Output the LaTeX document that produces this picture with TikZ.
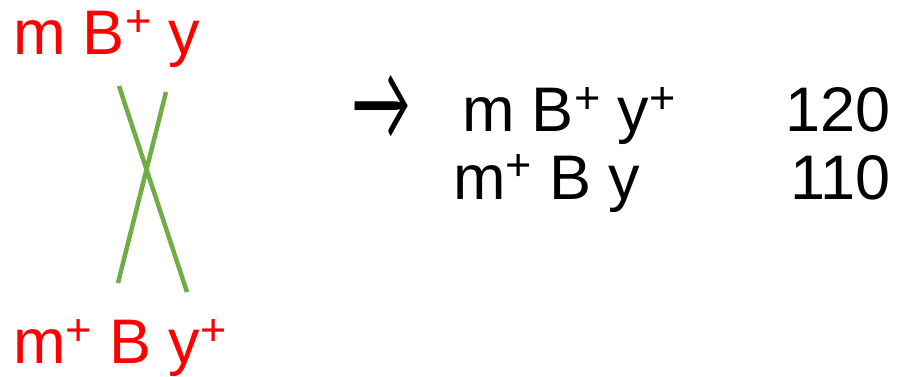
\documentclass[tikz,border=0pt]{standalone}
\usepackage{fontspec}
\setmainfont{Liberation Sans}
\newfontfamily\arrowfont{Lato}
\definecolor{linegreen}{HTML}{70AD47}
\definecolor{labelred}{HTML}{FF0000}
\newcommand{\plussup}{\raisebox{18pt}{\fontsize{45}{45}\selectfont +}}
\tikzset{
  lbl/.style={inner sep=0pt, outer sep=0pt, anchor=base west, font=\fontsize{63}{63}\selectfont},
  num/.style={inner sep=0pt, outer sep=0pt, anchor=base east, font=\fontsize{63}{63}\selectfont},
  redlbl/.style={lbl, text=labelred},
  cross/.style={draw=linegreen, line width=4.5pt}
}
\begin{document}
\begin{tikzpicture}[x=1pt, y=-1pt]
\useasboundingbox (0,0) rectangle (897,377);
\node[redlbl] (top) at (13,55) {m B\plussup{} y};
\node[redlbl] (bot) at (13,363) {m\plussup{} B y\plussup};
\coordinate (a1) at (119,86);
\coordinate (a2) at (187,292);
\coordinate (b1) at (166,92);
\coordinate (b2) at (118,283);
\draw[cross] (a1) -- (a2);
\draw[cross] (b1) -- (b2);
\node[inner sep=0pt, outer sep=0pt] (arr) at (381,107.5) {\resizebox{60pt}{65pt}{\arrowfont →}};
\node[lbl] (r1) at (462,131.7) {m B\plussup{} y\plussup};
\node[lbl] (r2) at (453,199) {m\plussup{} B y};
\node[num] (n1) at (891,131.7) {120};
\node[num] (n2) at (891,199) {110};
\end{tikzpicture}
\end{document}
